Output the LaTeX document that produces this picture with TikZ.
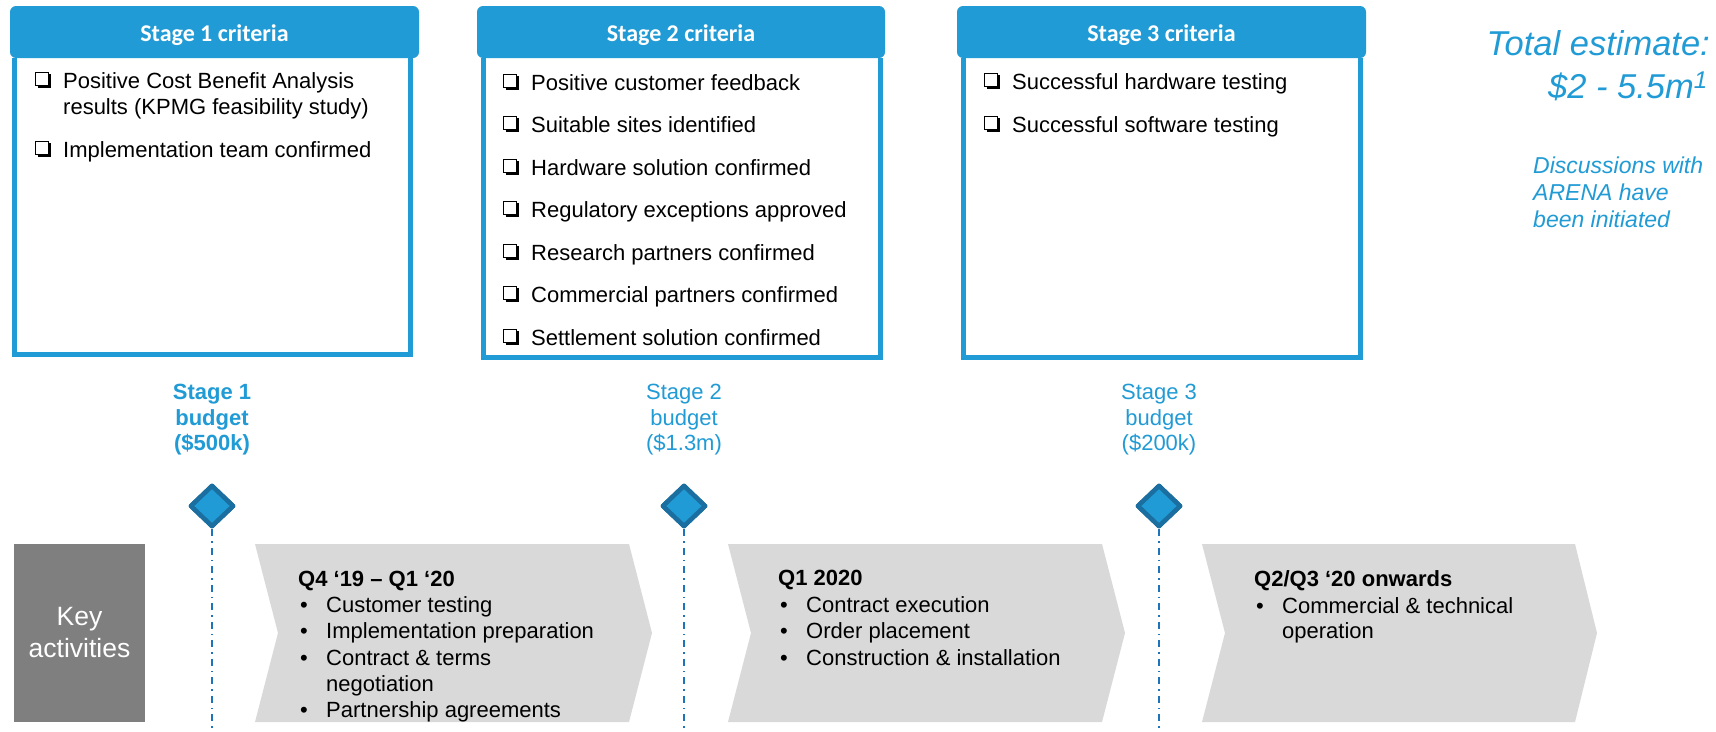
\documentclass[tikz,border=0pt]{standalone}
\usepackage{fontspec}
\setmainfont{Liberation Sans}
\newfontfamily\hdrfont{Carlito}
\usetikzlibrary{shapes.geometric}
\definecolor{cblue}{RGB}{33,155,213}
\definecolor{dblue}{RGB}{26,110,160}
\definecolor{lblue}{RGB}{30,115,185}
\definecolor{chev}{RGB}{217,217,217}
\definecolor{keyg}{RGB}{127,127,127}
\begin{document}
\begin{tikzpicture}[x=1pt,y=-1pt,
  hdr/.style={fill=cblue, rounded corners=6pt},
  bodybox/.style={draw=cblue, line width=5pt},
  hdrtext/.style={anchor=base, inner sep=0pt, text=white, font=\hdrfont\bfseries\fontsize{24}{28}\selectfont},
  item/.style={anchor=base west, inner sep=0pt, font=\fontsize{22}{26}\selectfont},
  budget/.style={anchor=base, inner sep=0pt, text=cblue, font=\fontsize{22}{26}\selectfont},
  bbudget/.style={budget, font=\bfseries\fontsize{22}{26}\selectfont},
  dmd/.style={diamond, draw=dblue, fill=cblue, line width=4.5pt, line join=round, minimum width=44pt, minimum height=42pt, inner sep=0pt},
  dashln/.style={draw=lblue, line width=2pt, dash pattern=on 7pt off 5pt on 1.5pt off 5pt},
  keybox/.style={fill=keyg, text=white, minimum width=131pt, minimum height=178pt, inner sep=0pt, align=center, font=\fontsize{26.5}{32}\selectfont},
  chevshape/.style={fill=chev},
  ctitle/.style={anchor=base west, inner sep=0pt, font=\bfseries\fontsize{22}{26}\selectfont},
  cbul/.style={anchor=base west, inner sep=0pt, font=\fontsize{22}{26}\selectfont},
  bigest/.style={anchor=base east, inner sep=0pt, text=cblue, font=\itshape\fontsize{34.5}{40}\selectfont},
  note/.style={anchor=base west, inner sep=0pt, text=cblue, font=\itshape\fontsize{23}{27}\selectfont},
  cbox/.pic={\draw[line width=1.3pt] (0.7pt,2.8pt) rectangle (13.4pt,15.4pt);
             \draw[line width=2.4pt] (2.5pt,1.2pt) -- (14.9pt,1.2pt) -- (14.9pt,13.6pt);}
]
\useasboundingbox (0,0) rectangle (1716,731);
\fill[white] (0,0) rectangle (1716,731);

% ---- criteria boxes ----
\draw[bodybox] (14.5,58) -- (14.5,354) -- (410,354) -- (410,58);
\fill[hdr] (10,6) rectangle (419,58);
\node[hdrtext] (h1) at (214.5,41.5) {Stage 1 criteria};

\draw[bodybox] (483,58) -- (483,357) -- (880,357) -- (880,58);
\fill[hdr] (477,6) rectangle (885,58);
\node[hdrtext] (h2) at (681,41.5) {Stage 2 criteria};

\draw[bodybox] (963,58) -- (963,357) -- (1360,357) -- (1360,58);
\fill[hdr] (957,6) rectangle (1366,58);
\node[hdrtext] (h3) at (1161.5,41.5) {Stage 3 criteria};

% stage 1 items
\node[item] (c1a) at (63,88) {Positive Cost Benefit Analysis};
\node[item] (c1b) at (63,114) {results (KPMG feasibility study)};
\node[item] (c1c) at (63,157) {Implementation team confirmed};
\pic at ([xshift=-28pt]c1a.base west) {cbox};
\pic at ([xshift=-28pt]c1c.base west) {cbox};

% stage 2 items
\node[item] (c2a) at (531,90) {Positive customer feedback};
\node[item] (c2b) at (531,132) {Suitable sites identified};
\node[item] (c2c) at (531,175) {Hardware solution confirmed};
\node[item] (c2d) at (531,217) {Regulatory exceptions approved};
\node[item] (c2e) at (531,260) {Research partners confirmed};
\node[item] (c2f) at (531,302) {Commercial partners confirmed};
\node[item] (c2g) at (531,345) {Settlement solution confirmed};
\foreach \n in {c2a,c2b,c2c,c2d,c2e,c2f,c2g}
  \pic at ([xshift=-28pt]\n.base west) {cbox};

% stage 3 items
\node[item] (c3a) at (1012,89) {Successful hardware testing};
\node[item] (c3b) at (1012,132) {Successful software testing};
\pic at ([xshift=-28pt]c3a.base west) {cbox};
\pic at ([xshift=-28pt]c3b.base west) {cbox};

% ---- total estimate ----
\node[bigest] (tot1) at (1710,55) {Total estimate:};
\node[bigest] (tot2) at (1708,98) {\$2 - 5.5m\textsuperscript{1}};
\node[note] (n1) at (1533,173) {Discussions with};
\node[note] (n2) at (1533,200) {ARENA have};
\node[note] (n3) at (1533,227) {been initiated};

% ---- budgets ----
\node[bbudget] (b1a) at (212,399) {Stage 1};
\node[bbudget] (b1b) at (212,425) {budget};
\node[bbudget] (b1c) at (212,450) {(\$500k)};
\node[budget] (b2a) at (684,399) {Stage 2};
\node[budget] (b2b) at (684,425) {budget};
\node[budget] (b2c) at (684,450) {(\$1.3m)};
\node[budget] (b3a) at (1159,399) {Stage 3};
\node[budget] (b3b) at (1159,425) {budget};
\node[budget] (b3c) at (1159,450) {(\$200k)};

% ---- chevrons ----
\fill[chevshape] (255,544) -- (629,544) -- (652,633) -- (629,722) -- (255,722) -- (278,633) -- cycle;
\fill[chevshape] (728,544) -- (1102,544) -- (1125,633) -- (1102,722) -- (728,722) -- (751,633) -- cycle;
\fill[chevshape] (1202,544) -- (1575,544) -- (1597,633) -- (1575,722) -- (1202,722) -- (1225,633) -- cycle;

% ---- milestones ----
\node[dmd] (d1) at (212,506) {};
\node[dmd] (d2) at (684,506) {};
\node[dmd] (d3) at (1159,506) {};
\coordinate (e1) at (212,731);
\coordinate (e2) at (684,731);
\coordinate (e3) at (1159,731);
\draw[dashln] (d1.south) -- (e1);
\draw[dashln] (d2.south) -- (e2);
\draw[dashln] (d3.south) -- (e3);
\node[dmd] at (d1) {};
\node[dmd] at (d2) {};
\node[dmd] at (d3) {};

% ---- key activities ----
\node[keybox] (key) at (79.5,633) {Key\\activities};

% chevron 1 text
\node[ctitle] (t1) at (298,586) {Q4 ‘19 – Q1 ‘20};
\node[cbul] (t1b1) at (300,612) {\textbullet};
\node[cbul] (t1a) at (326,612) {Customer testing};
\node[cbul] (t1b2) at (300,638) {\textbullet};
\node[cbul] (t1b) at (326,638) {Implementation preparation};
\node[cbul] (t1b3) at (300,665) {\textbullet};
\node[cbul] (t1c) at (326,665) {Contract \& terms};
\node[cbul] (t1d) at (326,691) {negotiation};
\node[cbul] (t1b4) at (300,717) {\textbullet};
\node[cbul] (t1e) at (326,717) {Partnership agreements};

% chevron 2 text
\node[ctitle] (t2) at (778,585) {Q1 2020};
\node[cbul] (t2b1) at (780,612) {\textbullet};
\node[cbul] (t2a) at (806,612) {Contract execution};
\node[cbul] (t2b2) at (780,638) {\textbullet};
\node[cbul] (t2b) at (806,638) {Order placement};
\node[cbul] (t2b3) at (780,665) {\textbullet};
\node[cbul] (t2c) at (806,665) {Construction \& installation};

% chevron 3 text
\node[ctitle] (t3) at (1254,586) {Q2/Q3 ‘20 onwards};
\node[cbul] (t3b1) at (1256,613) {\textbullet};
\node[cbul] (t3a) at (1282,613) {Commercial \& technical};
\node[cbul] (t3b) at (1282,638) {operation};
\end{tikzpicture}
\end{document}
